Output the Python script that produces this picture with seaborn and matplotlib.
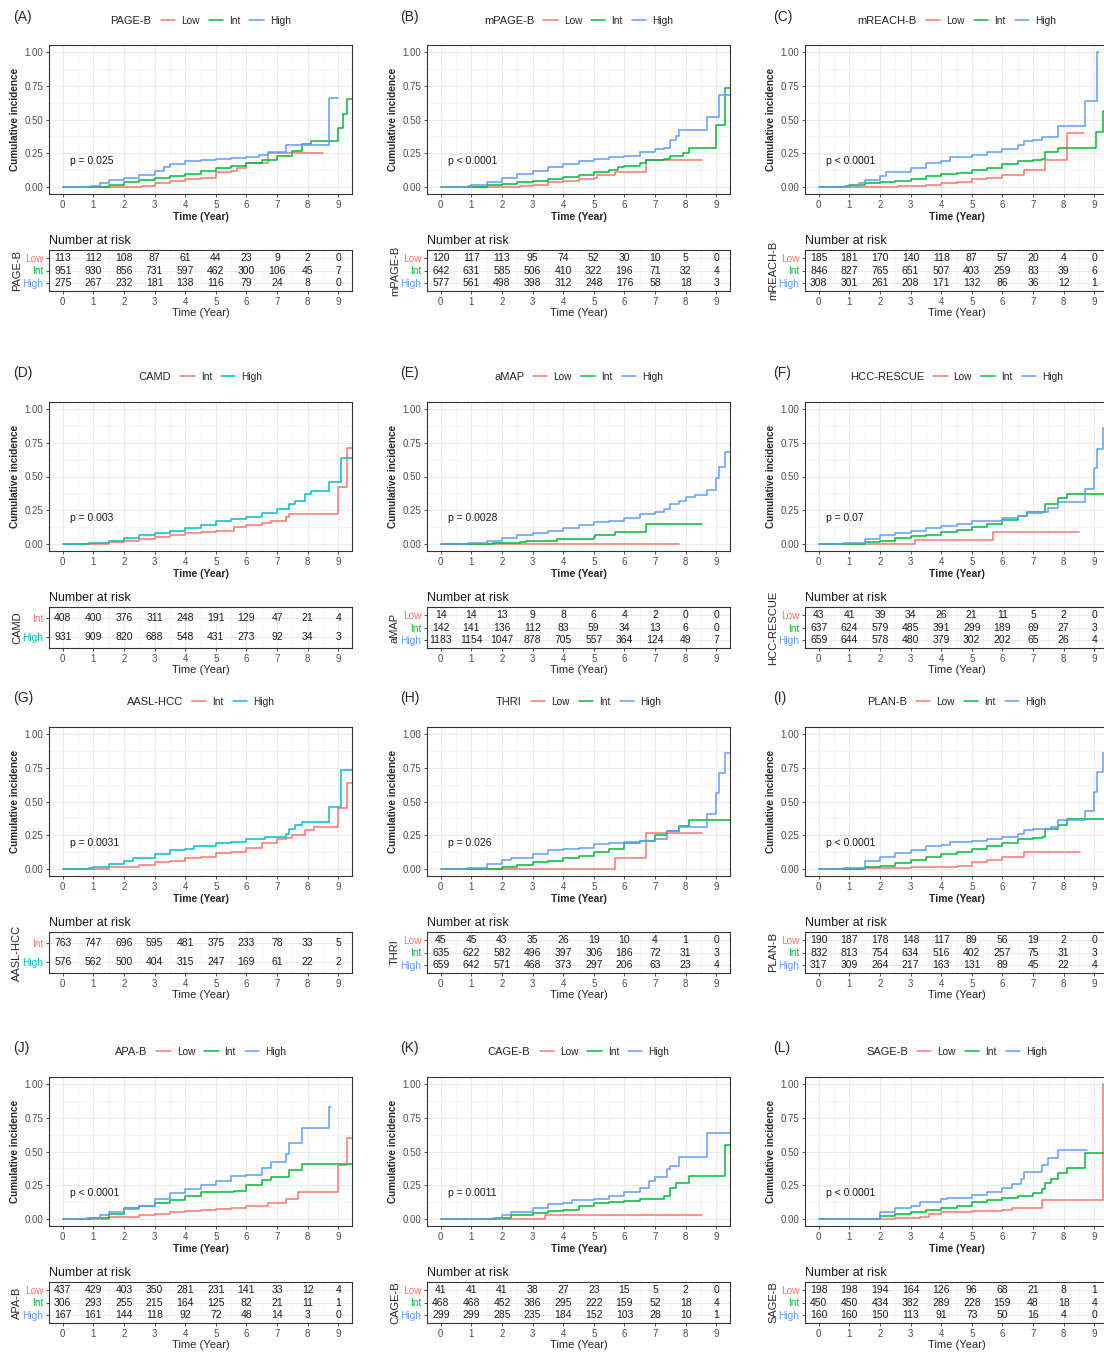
import pandas as pd
import seaborn as sns
import matplotlib.pyplot as plt
from matplotlib.lines import Line2D
from matplotlib.ticker import MultipleLocator

sns.set_theme(style="whitegrid")
plt.rcParams['font.family'] = ['Liberation Sans', 'DejaVu Sans']

# ---- cumulative incidence curves, (time, value) step knots ----
# (A) PAGE-B
pageb_low = [(0, 0), (2.6, 0.01), (3.0, 0.03), (3.5, 0.045), (4.0, 0.06), (4.5, 0.07), (5.0, 0.11), (5.5, 0.12),
             (5.7, 0.14), (6.0, 0.18), (6.7, 0.25), (8.5, 0.25)]
pageb_int = [(0, 0), (0.9, 0.005), (1.5, 0.02), (2.0, 0.035), (2.5, 0.05), (3.0, 0.07), (3.5, 0.085), (4.0, 0.1),
             (4.5, 0.12), (5.0, 0.14), (5.5, 0.16), (6.0, 0.18), (6.5, 0.2), (7.0, 0.23), (7.5, 0.27), (7.8, 0.32),
             (8.1, 0.34), (9.0, 0.44), (9.15, 0.54), (9.3, 0.65), (9.5, 0.65)]
pageb_high = [(0, 0), (0.9, 0.01), (1.2, 0.03), (1.5, 0.05), (2.0, 0.07), (2.5, 0.09), (3.0, 0.12), (3.3, 0.15),
              (3.5, 0.17), (4.0, 0.19), (4.5, 0.2), (5.0, 0.21), (5.5, 0.215), (6.0, 0.22), (6.4, 0.24), (6.7, 0.26),
              (7.3, 0.31), (8.7, 0.66), (9.0, 0.66)]
# (B) mPAGE-B
mpageb_low = [(0, 0), (2.6, 0.01), (3.0, 0.02), (3.5, 0.035), (4.0, 0.045), (4.5, 0.06), (5.0, 0.07), (5.1, 0.09),
              (5.7, 0.11), (6.7, 0.2), (8.55, 0.2)]
mpageb_int = [(0, 0), (0.9, 0.005), (1.5, 0.015), (2.0, 0.025), (2.5, 0.035), (3.0, 0.045), (3.5, 0.06), (4.0, 0.075),
              (4.5, 0.09), (5.0, 0.11), (5.5, 0.13), (5.8, 0.15), (6.0, 0.16), (6.5, 0.18), (6.7, 0.2), (7.3, 0.21),
              (7.5, 0.23), (7.9, 0.25), (8.1, 0.29), (9.0, 0.46), (9.3, 0.73), (9.5, 0.73)]
mpageb_high = [(0, 0), (0.9, 0.01), (1.0, 0.02), (1.5, 0.04), (2.0, 0.07), (2.5, 0.1), (3.0, 0.12), (3.5, 0.15),
               (4.0, 0.17), (4.5, 0.19), (5.0, 0.21), (5.5, 0.22), (6.0, 0.23), (6.5, 0.26), (7.0, 0.28), (7.3, 0.29),
               (7.5, 0.35), (7.7, 0.38), (7.8, 0.42), (8.7, 0.52), (9.1, 0.68), (9.5, 0.68)]
# (C) mREACH-B
mreach_low = [(0, 0), (2.6, 0.01), (3.5, 0.02), (4.0, 0.03), (4.5, 0.04), (5.0, 0.06), (5.5, 0.07), (6.0, 0.09),
              (6.7, 0.13), (7.4, 0.2), (8.1, 0.4), (8.65, 0.4)]
mreach_int = [(0, 0), (0.85, 0.01), (1.0, 0.02), (1.5, 0.03), (2.0, 0.035), (2.5, 0.045), (3.0, 0.06), (3.5, 0.08),
              (4.0, 0.095), (4.5, 0.105), (5.0, 0.125), (5.5, 0.14), (6.0, 0.17), (6.5, 0.19), (7.0, 0.2),
              (7.3, 0.21), (7.4, 0.26), (7.8, 0.29), (9.05, 0.41), (9.3, 0.56), (9.5, 0.56)]
mreach_high = [(0, 0), (0.9, 0.01), (1.3, 0.03), (1.5, 0.05), (2.0, 0.08), (2.2, 0.11), (3.0, 0.14), (3.5, 0.18),
               (4.0, 0.19), (4.3, 0.22), (5.0, 0.24), (5.5, 0.26), (6.0, 0.28), (6.5, 0.31), (6.7, 0.34), (7.0, 0.35),
               (7.3, 0.37), (7.8, 0.45), (8.7, 0.64), (9.1, 1.0), (9.15, 1.0)]
# (D) CAMD
camd_int = [(0, 0), (0.9, 0.005), (1.5, 0.015), (2.0, 0.025), (2.5, 0.035), (3.0, 0.055), (3.5, 0.065), (4.0, 0.08),
            (4.5, 0.09), (5.0, 0.1), (5.6, 0.13), (6.0, 0.14), (6.5, 0.16), (6.8, 0.175), (7.3, 0.2), (7.4, 0.22),
            (9.0, 0.42), (9.3, 0.71), (9.5, 0.71)]
camd_high = [(0, 0), (0.85, 0.01), (1.5, 0.025), (2.0, 0.045), (2.5, 0.065), (3.0, 0.085), (3.5, 0.1), (4.0, 0.12),
             (4.5, 0.14), (5.0, 0.17), (5.5, 0.185), (6.0, 0.2), (6.5, 0.23), (7.0, 0.26), (7.4, 0.3), (7.6, 0.32),
             (7.9, 0.37), (8.1, 0.39), (8.7, 0.46), (9.1, 0.64), (9.5, 0.64)]
# (E) aMAP
amap_low = [(0, 0), (7.8, 0)]
amap_int = [(0, 0), (0.9, 0.003), (1.7, 0.01), (2.6, 0.02), (2.8, 0.025), (3.8, 0.035), (5.0, 0.05), (5.05, 0.07),
            (5.7, 0.09), (6.7, 0.15), (8.55, 0.15)]
amap_high = [(0, 0), (0.9, 0.01), (1.5, 0.025), (2.0, 0.045), (2.5, 0.065), (3.0, 0.085), (3.5, 0.1), (4.0, 0.12),
             (4.5, 0.14), (5.0, 0.165), (5.5, 0.17), (6.0, 0.195), (6.5, 0.22), (7.0, 0.24), (7.3, 0.26), (7.5, 0.3),
             (7.8, 0.32), (8.0, 0.35), (8.3, 0.36), (8.7, 0.4), (9.0, 0.49), (9.1, 0.57), (9.3, 0.68), (9.5, 0.68)]
# (F) HCC-RESCUE
rescue_low = [(0, 0), (3.15, 0.03), (5.7, 0.09), (8.5, 0.09)]
rescue_int = [(0, 0), (0.9, 0.005), (1.5, 0.015), (2.0, 0.025), (2.5, 0.045), (3.0, 0.06), (3.5, 0.07), (4.0, 0.09),
              (4.5, 0.105), (5.0, 0.13), (5.5, 0.15), (6.0, 0.18), (6.5, 0.21), (6.8, 0.24), (7.4, 0.3), (7.8, 0.34),
              (8.1, 0.37), (9.5, 0.37)]
rescue_high = [(0, 0), (0.8, 0.01), (1.5, 0.04), (2.0, 0.07), (2.5, 0.085), (3.0, 0.1), (3.5, 0.12), (4.0, 0.135),
               (4.5, 0.15), (5.0, 0.17), (5.5, 0.175), (6.0, 0.19), (6.5, 0.21), (6.8, 0.23), (7.3, 0.24),
               (7.5, 0.27), (7.8, 0.31), (8.7, 0.41), (9.0, 0.56), (9.1, 0.7), (9.3, 0.86), (9.5, 0.86)]
# (G) AASL-HCC
aasl_int = [(0, 0), (0.9, 0.005), (1.5, 0.015), (2.0, 0.02), (2.5, 0.03), (3.0, 0.05), (3.5, 0.06), (4.0, 0.08),
            (4.5, 0.09), (5.0, 0.12), (5.5, 0.13), (6.0, 0.16), (6.5, 0.19), (7.0, 0.22), (7.3, 0.23), (7.5, 0.25),
            (7.9, 0.29), (8.2, 0.31), (9.0, 0.45), (9.3, 0.64), (9.5, 0.64)]
aasl_high = [(0, 0), (0.85, 0.01), (1.0, 0.02), (1.5, 0.035), (2.0, 0.06), (2.3, 0.085), (3.0, 0.11), (3.5, 0.14),
             (4.0, 0.15), (4.3, 0.17), (5.0, 0.19), (5.5, 0.2), (6.0, 0.22), (6.6, 0.24), (7.3, 0.26), (7.4, 0.3),
             (7.6, 0.33), (7.8, 0.35), (8.7, 0.46), (9.1, 0.73), (9.5, 0.73)]
# (H) THRI
thri_low = [(0, 0), (5.7, 0.08), (6.7, 0.27), (8.55, 0.27)]
thri_int = [(0, 0), (0.9, 0.005), (2.0, 0.015), (2.5, 0.03), (3.0, 0.05), (3.5, 0.06), (4.0, 0.08), (4.5, 0.1),
            (5.0, 0.13), (5.5, 0.15), (6.0, 0.19), (6.5, 0.21), (7.0, 0.25), (7.4, 0.28), (7.8, 0.32), (8.1, 0.36),
            (9.5, 0.36)]
thri_high = [(0, 0), (0.85, 0.01), (1.5, 0.04), (2.0, 0.065), (2.3, 0.08), (3.0, 0.11), (3.5, 0.14), (4.0, 0.15),
             (4.5, 0.16), (5.0, 0.185), (5.5, 0.195), (6.0, 0.2), (6.5, 0.21), (7.0, 0.22), (7.4, 0.28), (7.8, 0.31),
             (8.7, 0.41), (9.0, 0.56), (9.1, 0.71), (9.3, 0.86), (9.5, 0.86)]
# (I) PLAN-B
planb_low = [(0, 0), (0.8, 0.005), (1.3, 0.01), (3.0, 0.015), (4.5, 0.025), (5.0, 0.05), (5.5, 0.07), (6.0, 0.09),
             (6.7, 0.13), (8.55, 0.13)]
planb_int = [(0, 0), (0.9, 0.005), (1.5, 0.015), (2.0, 0.025), (2.5, 0.045), (3.0, 0.07), (3.5, 0.09), (4.0, 0.11),
             (4.5, 0.13), (5.0, 0.15), (5.5, 0.17), (6.0, 0.19), (6.5, 0.22), (7.0, 0.23), (7.3, 0.24), (7.4, 0.3),
             (7.8, 0.33), (8.1, 0.37), (9.5, 0.37)]
planb_high = [(0, 0), (0.8, 0.01), (1.5, 0.06), (2.0, 0.09), (2.5, 0.12), (3.0, 0.14), (3.5, 0.17), (4.0, 0.18),
              (4.3, 0.2), (5.0, 0.21), (5.5, 0.22), (6.0, 0.24), (6.5, 0.26), (6.7, 0.29), (7.0, 0.3), (7.6, 0.31),
              (7.8, 0.36), (8.7, 0.43), (9.0, 0.57), (9.1, 0.72), (9.3, 0.86), (9.5, 0.86)]
# (J) APA-B
apab_low = [(0, 0), (1.0, 0.005), (1.5, 0.015), (2.0, 0.02), (2.5, 0.03), (3.0, 0.04), (3.5, 0.055), (4.0, 0.06),
            (4.5, 0.07), (5.0, 0.075), (5.5, 0.085), (6.0, 0.095), (6.7, 0.12), (7.3, 0.15), (7.7, 0.2), (9.0, 0.4),
            (9.3, 0.6), (9.5, 0.6)]
apab_int = [(0, 0), (0.9, 0.01), (1.5, 0.04), (2.0, 0.08), (2.5, 0.1), (3.0, 0.12), (3.5, 0.14), (4.0, 0.17),
            (4.5, 0.2), (5.6, 0.21), (6.0, 0.25), (6.5, 0.29), (6.8, 0.31), (7.4, 0.36), (7.8, 0.41), (9.5, 0.41)]
apab_high = [(0, 0), (0.8, 0.01), (1.2, 0.03), (1.5, 0.05), (2.0, 0.075), (2.5, 0.1), (3.0, 0.15), (3.5, 0.19),
             (4.0, 0.22), (4.5, 0.25), (5.0, 0.28), (5.5, 0.32), (6.0, 0.33), (6.5, 0.38), (6.8, 0.42), (7.3, 0.48),
             (7.4, 0.56), (7.8, 0.67), (8.7, 0.83), (8.75, 0.83)]
# (K) CAGE-B
cageb_low = [(0, 0), (3.4, 0.03), (8.55, 0.03)]
cageb_int = [(0, 0), (1.8, 0.01), (2.3, 0.03), (3.0, 0.045), (3.5, 0.06), (4.0, 0.07), (4.5, 0.1), (5.0, 0.12),
             (5.5, 0.125), (6.0, 0.135), (6.5, 0.15), (7.3, 0.17), (7.5, 0.23), (7.7, 0.27), (8.1, 0.32), (9.3, 0.55),
             (9.5, 0.55)]
cageb_high = [(0, 0), (1.7, 0.01), (2.0, 0.03), (2.3, 0.05), (3.0, 0.08), (3.5, 0.11), (4.0, 0.12), (4.3, 0.14),
              (5.0, 0.15), (5.5, 0.17), (6.0, 0.2), (6.5, 0.23), (6.8, 0.28), (7.0, 0.31), (7.4, 0.37), (7.5, 0.39),
              (7.8, 0.46), (8.7, 0.64), (9.5, 0.64)]
# (L) SAGE-B
sageb_low = [(0, 0), (1.8, 0.005), (2.5, 0.01), (3.3, 0.02), (3.6, 0.04), (4.0, 0.05), (4.5, 0.055), (5.0, 0.06),
             (6.0, 0.07), (6.3, 0.085), (7.3, 0.14), (9.3, 1.0), (9.5, 1.0)]
sageb_int = [(0, 0), (1.6, 0.005), (2.0, 0.025), (2.5, 0.04), (3.0, 0.055), (3.5, 0.07), (4.0, 0.08), (4.5, 0.1),
             (5.0, 0.13), (5.5, 0.14), (6.0, 0.16), (6.5, 0.175), (7.0, 0.19), (7.3, 0.22), (7.4, 0.27), (7.6, 0.3),
             (7.8, 0.34), (8.1, 0.38), (8.7, 0.49), (9.5, 0.49)]
sageb_high = [(0, 0), (1.6, 0.005), (2.0, 0.05), (2.5, 0.08), (3.0, 0.1), (3.3, 0.13), (4.0, 0.15), (4.2, 0.16),
              (5.0, 0.18), (5.5, 0.2), (6.0, 0.23), (6.3, 0.26), (6.6, 0.3), (6.7, 0.35), (7.3, 0.4), (7.5, 0.45),
              (7.8, 0.51), (8.75, 0.51)]

# ---- number at risk at years 0..9 ----
risk_pageb = [[113, 112, 108, 87, 61, 44, 23, 9, 2, 0],
              [951, 930, 856, 731, 597, 462, 300, 106, 45, 7],
              [275, 267, 232, 181, 138, 116, 79, 24, 8, 0]]
risk_mpageb = [[120, 117, 113, 95, 74, 52, 30, 10, 5, 0],
               [642, 631, 585, 506, 410, 322, 196, 71, 32, 4],
               [577, 561, 498, 398, 312, 248, 176, 58, 18, 3]]
risk_mreach = [[185, 181, 170, 140, 118, 87, 57, 20, 4, 0],
               [846, 827, 765, 651, 507, 403, 259, 83, 39, 6],
               [308, 301, 261, 208, 171, 132, 86, 36, 12, 1]]
risk_camd = [[408, 400, 376, 311, 248, 191, 129, 47, 21, 4],
             [931, 909, 820, 688, 548, 431, 273, 92, 34, 3]]
risk_amap = [[14, 14, 13, 9, 8, 6, 4, 2, 0, 0],
             [142, 141, 136, 112, 83, 59, 34, 13, 6, 0],
             [1183, 1154, 1047, 878, 705, 557, 364, 124, 49, 7]]
risk_rescue = [[43, 41, 39, 34, 26, 21, 11, 5, 2, 0],
               [637, 624, 579, 485, 391, 299, 189, 69, 27, 3],
               [659, 644, 578, 480, 379, 302, 202, 65, 26, 4]]
risk_aasl = [[763, 747, 696, 595, 481, 375, 233, 78, 33, 5],
             [576, 562, 500, 404, 315, 247, 169, 61, 22, 2]]
risk_thri = [[45, 45, 43, 35, 26, 19, 10, 4, 1, 0],
             [635, 622, 582, 496, 397, 306, 186, 72, 31, 3],
             [659, 642, 571, 468, 373, 297, 206, 63, 23, 4]]
risk_planb = [[190, 187, 178, 148, 117, 89, 56, 19, 2, 0],
              [832, 813, 754, 634, 516, 402, 257, 75, 31, 3],
              [317, 309, 264, 217, 163, 131, 89, 45, 22, 4]]
risk_apab = [[437, 429, 403, 350, 281, 231, 141, 33, 12, 4],
             [306, 293, 255, 215, 164, 125, 82, 21, 11, 1],
             [167, 161, 144, 118, 92, 72, 48, 14, 3, 0]]
risk_cageb = [[41, 41, 41, 38, 27, 23, 15, 5, 2, 0],
              [468, 468, 452, 386, 295, 222, 159, 52, 18, 4],
              [299, 299, 285, 235, 184, 152, 103, 28, 10, 1]]
risk_sageb = [[198, 198, 194, 164, 126, 96, 68, 21, 8, 1],
              [450, 450, 434, 382, 289, 228, 159, 48, 18, 4],
              [160, 160, 150, 113, 91, 73, 50, 16, 4, 0]]

three = ["Low", "Int", "High"]
two = ["Int", "High"]
pal3 = {"Low": "#F8766D", "Int": "#00BA38", "High": "#619CFF"}
pal2 = {"Int": "#F8766D", "High": "#00BFC4"}

panels = [
    ("(A)", "PAGE-B", three, [pageb_low, pageb_int, pageb_high], risk_pageb, "p = 0.025"),
    ("(B)", "mPAGE-B", three, [mpageb_low, mpageb_int, mpageb_high], risk_mpageb, "p < 0.0001"),
    ("(C)", "mREACH-B", three, [mreach_low, mreach_int, mreach_high], risk_mreach, "p < 0.0001"),
    ("(D)", "CAMD", two, [camd_int, camd_high], risk_camd, "p = 0.003"),
    ("(E)", "aMAP", three, [amap_low, amap_int, amap_high], risk_amap, "p = 0.0028"),
    ("(F)", "HCC-RESCUE", three, [rescue_low, rescue_int, rescue_high], risk_rescue, "p = 0.07"),
    ("(G)", "AASL-HCC", two, [aasl_int, aasl_high], risk_aasl, "p = 0.0031"),
    ("(H)", "THRI", three, [thri_low, thri_int, thri_high], risk_thri, "p = 0.026"),
    ("(I)", "PLAN-B", three, [planb_low, planb_int, planb_high], risk_planb, "p < 0.0001"),
    ("(J)", "APA-B", three, [apab_low, apab_int, apab_high], risk_apab, "p < 0.0001"),
    ("(K)", "CAGE-B", three, [cageb_low, cageb_int, cageb_high], risk_cageb, "p = 0.0011"),
    ("(L)", "SAGE-B", three, [sageb_low, sageb_int, sageb_high], risk_sageb, "p < 0.0001"),
]

# layout in pixels
W, H = 1104, 1353
col_left = [49, 427, 805]
tag_x = [13, 400, 773]
plot_top = [45, 402, 727, 1077]
table_top = [250, 607, 932, 1282]
tag_y = [17, 373, 698, 1048]
legend_y = [21, 377, 702, 1052]
AX_W, PLOT_H, TABLE_H = 303, 149, 41

fig = plt.figure(figsize=(W / 100, H / 100), dpi=100)


def px_axes(left, top, w, h):
    return fig.add_axes([left / W, 1 - (top + h) / H, w / W, h / H])


def style_axes(ax, ygrid_minor):
    ax.set_facecolor("white")
    ax.set_axisbelow(True)
    for sp in ax.spines.values():
        sp.set_visible(True)
        sp.set_color("#333333")
        sp.set_linewidth(0.8)
    ax.set_xlim(-0.45, 9.45)
    ax.set_xticks(range(10))
    ax.xaxis.set_minor_locator(MultipleLocator(0.5))
    if ygrid_minor:
        ax.yaxis.set_minor_locator(MultipleLocator(0.125))
    ax.grid(which="major", color="#EBEBEB", linewidth=0.8)
    ax.grid(which="minor", color="#F3F3F3", linewidth=0.5)
    ax.tick_params(which="major", length=2.5, width=0.6, color="#333333", labelsize=7,
                   labelcolor="#4D4D4D", pad=1.5, left=True, bottom=True)
    ax.tick_params(which="minor", length=0)


for i, (tag, name, groups, curves, risks, pval) in enumerate(panels):
    r, c = divmod(i, 3)
    x0 = col_left[c]
    colors = pal3 if len(groups) == 3 else pal2

    # --- cumulative incidence plot ---
    ax = px_axes(x0, plot_top[r], AX_W, PLOT_H)
    style_axes(ax, True)
    rows = []
    for g, pts in zip(groups, curves):
        for t, v in pts:
            rows.append((t, v, g))
    df = pd.DataFrame(rows, columns=["time", "ci", "group"])
    sns.lineplot(data=df, x="time", y="ci", hue="group", hue_order=groups, palette=colors,
                 estimator=None, errorbar=None, sort=False, drawstyle="steps-post",
                 linewidth=1.1, legend=False, ax=ax)
    ax.set_xlim(-0.45, 9.45)
    ax.set_ylim(-0.05, 1.05)
    ax.set_yticks([0, 0.25, 0.5, 0.75, 1.0])
    ax.set_yticklabels(["0.00", "0.25", "0.50", "0.75", "1.00"])
    ax.set_xlabel("Time (Year)", fontsize=7.5, fontweight="bold", labelpad=1.5)
    ax.set_ylabel("Cumulative incidence", fontsize=7.2, fontweight="bold")
    ax.yaxis.set_label_coords(-29 / AX_W, 0.5)
    ax.text(0.22, 0.19, pval, fontsize=7.5, color="#1A1A1A", ha="left", va="center")

    # legend with title on the left (blank first handle, anchor shifted to recentre)
    handles = [Line2D([], [], color="none")] + [Line2D([], [], color=colors[g], lw=1.1) for g in groups]
    leg = ax.legend(handles, [name] + groups, loc="center",
                    bbox_to_anchor=((x0 + AX_W / 2 - 10) / W, 1 - legend_y[r] / H),
                    bbox_transform=fig.transFigure, ncol=len(groups) + 1, frameon=False,
                    fontsize=7.3, handlelength=1.4, handletextpad=0.6, columnspacing=0.9,
                    borderpad=0, borderaxespad=0)
    leg.get_texts()[0].set_fontsize(8)

    fig.text(tag_x[c] / W, 1 - tag_y[r] / H, tag, fontsize=10, ha="left", va="center")

    # --- number at risk table ---
    tb = px_axes(x0, table_top[r], AX_W, TABLE_H)
    style_axes(tb, False)
    n = len(groups)
    tb.set_ylim(n - 0.4, -0.6)
    tb.set_yticks(range(n))
    tb.set_yticklabels(groups, fontsize=7.3)
    for lab, g in zip(tb.get_yticklabels(), groups):
        lab.set_color(colors[g])
    for j in range(n):
        for k, v in enumerate(risks[j]):
            tb.text(k, j, str(v), ha="center", va="center", fontsize=7.5, color="#1A1A1A")
    tb.set_title("Number at risk", loc="left", fontsize=9, pad=4, color="#1A1A1A")
    tb.set_xlabel("Time (Year)", fontsize=8, labelpad=1)
    tb.set_ylabel(name, fontsize=8)
    tb.yaxis.set_label_coords(-27 / AX_W, 0.5)

fig.savefig("out.png", dpi=100)
